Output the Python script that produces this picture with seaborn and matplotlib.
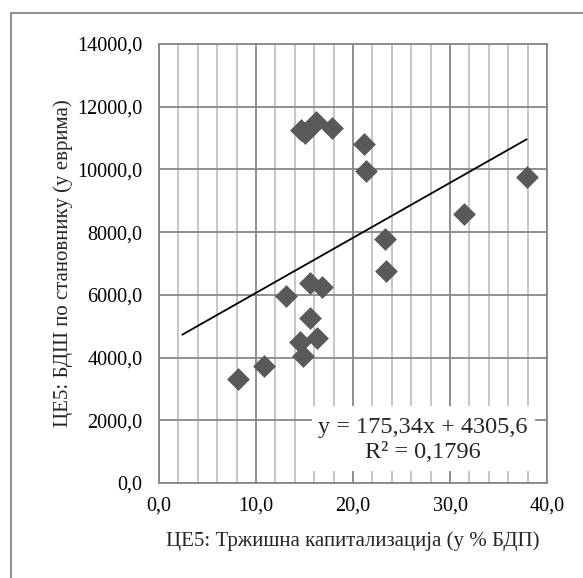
import numpy as np
import pandas as pd
import matplotlib
matplotlib.use("Agg")
import matplotlib.pyplot as plt
import seaborn as sns
from matplotlib.ticker import MultipleLocator, FuncFormatter
from matplotlib.patches import Rectangle

# ---- data ----
market_cap = [14.6, 15.1, 16.15, 17.8, 21.17, 21.34, 37.9, 31.44, 23.3, 23.4,
              15.57, 16.77, 13.06, 8.18, 10.86, 14.54, 14.88, 15.57, 16.3]
gdp_per_capita = [11250, 11150, 11500, 11330, 10800, 9950, 9770, 8580, 7780, 6770,
                  6370, 6260, 5970, 3320, 3730, 4490, 4050, 5250, 4610]
x_label = "ЦЕ5: Тржишна капитализација (у % БДП)"
y_label = "ЦЕ5: БДШ по становнику (у еврима)"
equation_text = "y = 175,34x + 4305,6"
r2_text = "R² = 0,1796"
trend_start = 2.4

df = pd.DataFrame({"x": market_cap, "y": gdp_per_capita})

sns.set_style("white")
plt.rcParams["font.family"] = ["Liberation Serif", "DejaVu Serif"]

W, H = 583, 578
fig = plt.figure(figsize=(W / 100, H / 100), dpi=100)
L, R, T, B = 159, 547, 44, 483
ax = fig.add_axes([L / W, 1 - B / H, (R - L) / W, (B - T) / H])

major_c = "#878787"
minor_c = "#c2c2c2"

sns.scatterplot(data=df, x="x", y="y", marker="D", s=135, color="#595959",
                linewidth=0, ax=ax, zorder=4)

coef = np.polyfit(df["x"], df["y"], 1)
xs = np.array([trend_start, df["x"].max()])
sns.lineplot(x=xs, y=np.polyval(coef, xs), color="black", linewidth=1.3,
             ax=ax, zorder=3)

ax.set_xlim(0, 40)
ax.set_ylim(0, 14000)
ax.xaxis.set_major_locator(MultipleLocator(10))
ax.xaxis.set_minor_locator(MultipleLocator(2))
ax.yaxis.set_major_locator(MultipleLocator(2000))
fmt = FuncFormatter(lambda v, p: f"{v:.1f}".replace(".", ","))
ax.xaxis.set_major_formatter(fmt)
ax.yaxis.set_major_formatter(fmt)

ax.set_axisbelow(True)
ax.grid(which="major", axis="both", color=major_c, linewidth=1.3)
ax.grid(which="minor", axis="x", color=minor_c, linewidth=1.3)

for s in ax.spines.values():
    s.set_color(major_c)
    s.set_linewidth(1.3)

ax.tick_params(axis="both", which="major", direction="out", length=4,
               width=1.3, color=major_c, labelsize=14.5, labelcolor="black")
ax.tick_params(axis="x", which="major", pad=6)
ax.tick_params(axis="y", which="major", pad=8)
ax.tick_params(axis="x", which="minor", length=0)

ax.set_xlabel(x_label, fontsize=15, labelpad=11)
ax.set_ylabel(y_label, fontsize=15, labelpad=3)

# equation box
ax.add_patch(Rectangle((0.394, 0.027), 0.575, 0.148, transform=ax.transAxes,
                       facecolor="white", edgecolor="none", zorder=2.5))
ax.text((423 - L) / (R - L), (B - 427) / (B - T), equation_text,
        transform=ax.transAxes, ha="center", va="center", fontsize=17.5, zorder=5)
ax.text((423 - L) / (R - L), (B - 453) / (B - T), r2_text,
        transform=ax.transAxes, ha="center", va="center", fontsize=17.5, zorder=5)

# outer chart frame
fig.patches.append(Rectangle((11 / W, -0.1), 1.2, 1 - 13 / H + 0.1,
                             transform=fig.transFigure, fill=False,
                             edgecolor=major_c, linewidth=1.3))

fig.savefig("out.png", dpi=100)
